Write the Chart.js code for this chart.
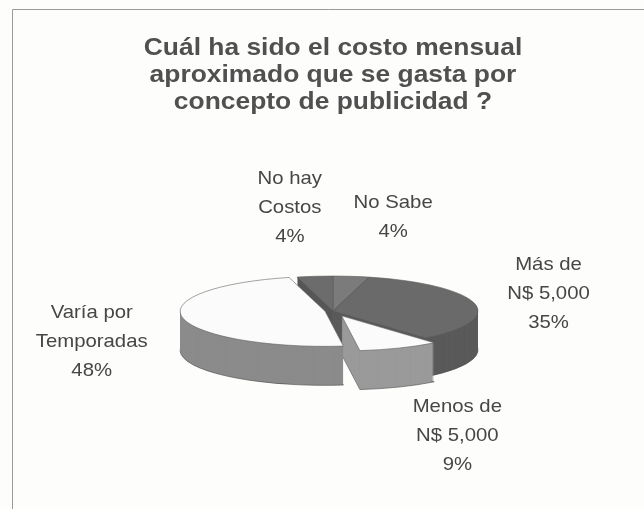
<!DOCTYPE html>
<html lang="es">
<head>
<meta charset="utf-8">
<title>Costo mensual de publicidad</title>
<script src="https://cdn.jsdelivr.net/npm/chart.js@4.4.1/dist/chart.umd.min.js"></script>
<style>
  html, body { margin: 0; padding: 0; background: #fdfdfb; }
  canvas { display: block; }
</style>
</head>
<body>
<canvas id="grafico" width="644" height="509"></canvas>
<script>
// Categorías en sentido horario desde las 12
const categorias = [
  ['No Sabe'],
  ['Más de', 'N$ 5,000'],
  ['Menos de', 'N$ 5,000'],
  ['Varía por', 'Temporadas'],
  ['No hay', 'Costos']
];
const porcentajes = [4, 35, 9, 48, 4];
const titulo = ['Cuál ha sido el costo mensual', 'aproximado que se gasta por', 'concepto de publicidad ?'];

// Estilos de cada rebanada
const colorTapa = ['#7b7b7b', '#6a6a6a', '#fbfbfb', '#fbfbfb', '#6c6c6c'];
const colorLado = ['#5e5e5e', '#5a5a5a', '#9a9a9a', '#8b8b8b', '#565656'];
const separado = [0, 0, 22, 8, 0];            // rebanadas separadas del centro (px)
const posEtiqueta = [[42, -59], [74, -10], [58, 88], [-91, 24], [-25, -69]];

const ALTO = 35 / 145;   // aplastamiento de la elipse
const GROSOR = 39;       // alto del canto

function desplazar(ctx, arc, i, dy) {
  const mid = (arc.startAngle + arc.endAngle) / 2;
  ctx.translate(arc.x, arc.y + dy);
  ctx.scale(1, ALTO);
  ctx.translate(Math.cos(mid) * separado[i] - arc.x, Math.sin(mid) * separado[i] - arc.y);
}

function caminoRebanada(ctx, arc, i, dy) {
  ctx.save();
  desplazar(ctx, arc, i, dy);
  ctx.beginPath();
  ctx.moveTo(arc.x, arc.y);
  ctx.arc(arc.x, arc.y, arc.outerRadius, arc.startAngle, arc.endAngle);
  ctx.closePath();
  ctx.restore();
}

const fondo = {
  id: 'fondo',
  beforeDraw(chart) {
    const ctx = chart.ctx;
    ctx.save();
    ctx.fillStyle = '#fdfdfb';
    ctx.fillRect(0, 0, chart.width, chart.height);
    ctx.strokeStyle = '#9a9a9a';
    ctx.lineWidth = 1;
    ctx.beginPath();
    ctx.moveTo(12.5, chart.height);
    ctx.lineTo(12.5, 9.5);
    ctx.lineTo(chart.width, 9.5);
    ctx.stroke();
    ctx.restore();
  }
};

// Torta en perspectiva: cantos apilados y luego las tapas
const torta3d = {
  id: 'torta3d',
  beforeDatasetsDraw(chart) {
    const ctx = chart.ctx;
    const arcs = chart.getDatasetMeta(0).data;
    ctx.save();
    for (let d = GROSOR; d >= 1; d--) {
      arcs.forEach((arc, i) => {
        caminoRebanada(ctx, arc, i, d);
        ctx.fillStyle = colorLado[i];
        ctx.fill();
        if (d === GROSOR) {
          ctx.strokeStyle = 'rgba(70,70,70,0.6)';
          ctx.lineWidth = 1;
          ctx.stroke();
        }
      });
    }
    arcs.forEach((arc, i) => {
      ctx.save();
      desplazar(ctx, arc, i, 0);
      arc.draw(ctx);
      ctx.restore();
      caminoRebanada(ctx, arc, i, 0);
      ctx.strokeStyle = 'rgba(90,90,90,0.55)';
      ctx.lineWidth = 1;
      ctx.stroke();
    });
    ctx.restore();
    return false;
  }
};

const textos = {
  id: 'textos',
  afterDraw(chart) {
    const ctx = chart.ctx;
    ctx.save();
    ctx.textAlign = 'center';
    ctx.textBaseline = 'alphabetic';

    // título
    ctx.fillStyle = '#505050';
    ctx.font = 'bold 24px "Liberation Sans", Arial, sans-serif';
    titulo.forEach((linea, j) => {
      ctx.save();
      ctx.translate(333, 55 + j * 27);
      ctx.scale(1.1, 1);
      ctx.fillText(linea, 0, 0);
      ctx.restore();
    });

    // etiquetas de cada rebanada
    ctx.fillStyle = '#464646';
    ctx.font = '19px "Liberation Sans", Arial, sans-serif';
    ctx.textBaseline = 'middle';
    const arcs = chart.getDatasetMeta(0).data;
    arcs.forEach((arc, i) => {
      const mid = (arc.startAngle + arc.endAngle) / 2;
      const r = arc.outerRadius + separado[i];
      const bx = arc.x + Math.cos(mid) * r + posEtiqueta[i][0];
      const by = arc.y + Math.sin(mid) * r * ALTO + posEtiqueta[i][1];
      const lineas = [...categorias[i], porcentajes[i] + '%'];
      lineas.forEach((t, j) => {
        ctx.save();
        ctx.translate(bx, by + (j - (lineas.length - 1) / 2) * 29);
        ctx.scale(1.07, 1);
        ctx.fillText(t, 0, 0);
        ctx.restore();
      });
    });
    ctx.restore();
  }
};

new Chart(document.getElementById('grafico'), {
  type: 'pie',
  data: {
    labels: categorias,
    datasets: [{
      data: porcentajes,
      backgroundColor: colorTapa,
      borderWidth: 0,
      hoverOffset: 0
    }]
  },
  options: {
    responsive: false,
    animation: false,
    devicePixelRatio: 1,
    events: [],
    layout: { padding: { left: 188, right: 166, top: 166, bottom: 53 } },
    plugins: {
      legend: { display: false },
      tooltip: { enabled: false }
    }
  },
  plugins: [fondo, torta3d, textos]
});
</script>
</body>
</html>
